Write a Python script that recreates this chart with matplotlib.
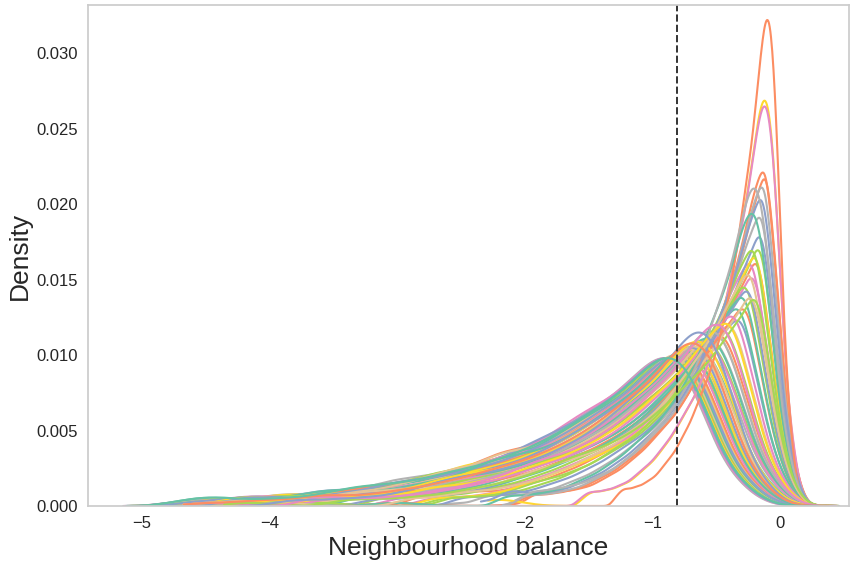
import numpy as np
import matplotlib
matplotlib.use('Agg')
import matplotlib.pyplot as plt
import seaborn as sns

sns.set_style('whitegrid')
plt.rcParams['font.family'] = ['Liberation Sans', 'DejaVu Sans']

# density profile of the broadest run (x 1e-4), on a 0.1 grid from -4.8 to 0.1
profile_x = np.linspace(-4.8, 0.1, 50)
profile_w = [1, 2, 3, 3.5, 3.5, 3.5, 4, 4, 4.5, 5, 5.5, 6, 7,
             8, 9, 10, 11, 12.5, 14, 15.5, 17, 19, 21, 23, 25, 27,
             29.5, 32.5, 35.5, 39, 43, 47.5, 52.5, 58, 63.5, 69, 75, 83, 91,
             98, 100, 94, 78, 57, 36, 22, 13, 6, 2, 0.5]
profile_mode = -0.8

# peak height and peak position of every run, in hue order
peak_height = [0.0100, 0.0108, 0.0115, 0.0122, 0.0130, 0.0120, 0.0150, 0.0214,
               0.0197, 0.0316, 0.0201, 0.0124, 0.0167, 0.0110, 0.0132, 0.0118,
               0.0135, 0.0126, 0.0138, 0.0268, 0.0142, 0.0271, 0.0107, 0.0210,
               0.0113, 0.0221, 0.0106, 0.0111, 0.0116, 0.0160, 0.0114, 0.0110,
               0.0104, 0.0112, 0.0173, 0.0146, 0.0164, 0.0104, 0.0105, 0.0188,
               0.0128, 0.0214, 0.0101, 0.0103, 0.0109, 0.0103, 0.0102, 0.0108,
               0.0101, 0.0102, 0.0119, 0.0158, 0.0102, 0.0101, 0.0100, 0.0105,
               0.0100, 0.0155, 0.0100, 0.0100, 0.0100, 0.0100, 0.0117, 0.0100,
               0.0106, 0.0100]
peak_at = [-0.85, -0.66, -0.61, -0.48, -0.20, -0.42, -0.25, -0.19,
           -0.21, -0.09, -0.15, -0.38, -0.22, -0.62, -0.23, -0.52,
           -0.30, -0.29, -0.26, -0.11, -0.28, -0.11, -0.64, -0.14,
           -0.55, -0.13, -0.68, -0.58, -0.45, -0.20, -0.50, -0.53,
           -0.72, -0.47, -0.16, -0.22, -0.17, -0.69, -0.66, -0.16,
           -0.34, -0.12, -0.79, -0.74, -0.56, -0.71, -0.78, -0.60,
           -0.80, -0.76, -0.33, -0.24, -0.73, -0.77, -0.81, -0.70,
           -0.85, -0.19, -0.86, -0.87, -0.82, -0.84, -0.40, -0.88,
           -0.63, -0.83]

# isolated low-balance observations found in the left tail
tail_obs = [-4.45, -4.15, -3.9, -3.6, -3.3, -3.0, -2.7, -2.45, -2.2, -1.9, -1.6]

# balance values hardly go above this
upper_end = 0.24
threshold = -0.81


def kde(grid, centres, weights, bw):
    z = (grid[:, None] - centres[None, :]) / bw[None, :]
    k = np.exp(-0.5 * z ** 2) / (bw[None, :] * np.sqrt(2 * np.pi))
    return k @ weights / weights.sum()


n_runs = len(peak_height)
palette = sns.color_palette('Set2', 8)
base_w = np.array(profile_w)
left = profile_x <= profile_mode + 1e-9
body_share = 0.988
top = base_w.max()
right_len = profile_x.max() - profile_mode

fig = plt.figure(figsize=(8.51, 5.64), dpi=100)
ax = fig.add_axes([88 / 851, 58 / 564, 761 / 851, 501 / 564])

# hue levels drawn in reverse so the first run ends up on top
for i in reversed(range(n_runs)):
    # right flank squeezed so it stops near upper_end, left flank sized by the peak
    s_r = min(1.0, (upper_end - peak_at[i]) / right_len)
    target = top * body_share / n_runs / (0.1 * peak_height[i])
    s = max(0.25, (target - s_r * base_w[~left].sum()) / base_w[left].sum())
    s_r = min(s_r, s)
    offs = profile_x - profile_mode
    body = peak_at[i] + np.where(left, s * offs, s_r * offs)
    w_body = np.where(left, s * base_w, s_r * base_w)
    w_body = body_share * w_body / w_body.sum()
    bw_body = np.full(body.size, 0.08 * s)

    tail = np.array([tail_obs[(3 * i) % 11], tail_obs[(7 * i + 4) % 11]])
    centres = np.concatenate([body, tail])
    weights = np.concatenate([w_body, [(1 - body_share) / 2] * 2])
    bw = np.concatenate([bw_body, [0.18, 0.18]])
    grid = np.linspace(centres.min() - 3 * bw.min(), body.max() + 3 * bw_body[0], 900)
    dens = kde(grid, centres, weights, bw) / n_runs
    ax.plot(grid, dens, color=palette[i % 8], linewidth=1.5)

ax.axvline(threshold, color='#333333', linestyle='--', linewidth=1.4)

ax.set_xlim(-5.42, 0.54)
ax.set_ylim(0, 0.0332)
ax.set_xticks([-5, -4, -3, -2, -1, 0])
ax.set_yticks(np.arange(0, 0.031, 0.005))
ax.yaxis.set_major_formatter(matplotlib.ticker.FormatStrFormatter('%.3f'))
ax.grid(False)
ax.tick_params(length=0, labelsize=12, colors='#262626', pad=7.5)
for s in ax.spines.values():
    s.set_color('#cccccc')
    s.set_linewidth(1.25)

ax.set_xlabel('Neighbourhood balance', fontsize=19, color='#262626', labelpad=3)
ax.set_ylabel('Density', fontsize=19, color='#262626', labelpad=3)

fig.savefig('out.png', dpi=100)
